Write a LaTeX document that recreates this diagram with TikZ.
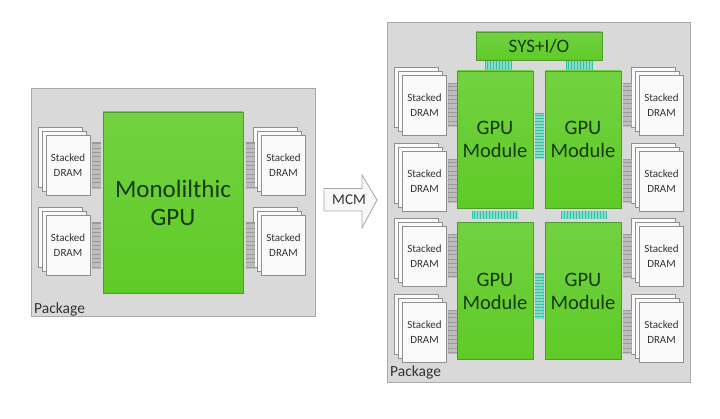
\documentclass[tikz,border=0pt]{standalone}
\usepackage{fontspec}
\setmainfont{Carlito}
\usepackage{tikz}
\usetikzlibrary{positioning}
\definecolor{pkgfill}{HTML}{D9D9D9}
\definecolor{pkgline}{HTML}{A8A8A8}
\definecolor{gpugreen}{HTML}{5FCB27}
\definecolor{gpuline}{HTML}{4E9A2A}
\definecolor{gputext}{HTML}{163A0A}
\definecolor{link}{HTML}{33C4A8}
\definecolor{pin}{HTML}{9A9A9A}
\definecolor{sheet}{HTML}{FAFAFA}
\definecolor{txt}{HTML}{333333}

\tikzset{
  pkg/.style={draw=pkgline, fill=pkgfill, line width=0.9pt, inner sep=0pt},
  gpu/.style={draw=gpuline, top color=gpugreen!88!white, bottom color=gpugreen,
    line width=0.6pt, text=gputext, align=center, inner sep=0pt},
  sheetbox/.style={draw=pkgline!85!black, fill=sheet, line width=0.5pt,
    minimum width=44pt, minimum height=60pt, inner sep=0pt},
  dramtxt/.style={font=\fontsize{11}{15}\selectfont, text=txt, align=center},
  pkgtxt/.style={font=\fontsize{15.5}{17}\selectfont, text=txt, anchor=base west, inner sep=0pt},
  % pin strips: grey for DRAM, teal for module links
  pinsv/.style={fill=pin, inner sep=0pt, minimum width=9pt, minimum height=46pt,
    path picture={\foreach \k in {1,...,50}
      \draw[pin!65!white, line width=0.5pt]
        ([yshift=-\k*1.3pt]path picture bounding box.north west) --
        ([yshift=-\k*1.3pt]path picture bounding box.north east);}},
  linkv/.style={fill=link, inner sep=0pt, minimum width=9pt, minimum height=46pt,
    path picture={\foreach \k in {1,...,40}
      \draw[link!60!white, line width=0.5pt]
        ([yshift=-\k*1.5pt]path picture bounding box.north west) --
        ([yshift=-\k*1.5pt]path picture bounding box.north east);}},
  linkh/.style={fill=link, inner sep=0pt, minimum width=46pt, minimum height=8pt,
    path picture={\foreach \k in {1,...,40}
      \draw[link!60!white, line width=0.5pt]
        ([xshift=\k*1.5pt]path picture bounding box.north west) --
        ([xshift=\k*1.5pt]path picture bounding box.south west);}},
  arrowbox/.style={draw=pkgline, fill=sheet!95!pkgfill, line width=0.8pt, line join=miter}
}

\begin{document}
\begin{tikzpicture}[x=1pt, y=-1pt]
  \fill[white] (0,0) rectangle (720,419);
  \useasboundingbox (0,0) rectangle (720,419);

  % left: monolithic package
  \node[pkg, minimum width=284pt, minimum height=228pt] (pkgL) at (173,202) {};
  \node[pkgtxt] (pkgLtxt) at (34,314) {Package};
  \node[gpu, minimum width=140pt, minimum height=181pt, font=\fontsize{25}{28}\selectfont]
    (mono) at (173,202.5) {Monolilthic\\GPU};
  \foreach \n/\x/\y in {dl1/68/165.5, dl2/68/245.5, dr1/283.5/165.5, dr2/283.5/245.5} {
    \node[sheetbox] at (\x-8,\y-8) {};
    \node[sheetbox] at (\x-4,\y-4) {};
    \node[sheetbox, dramtxt] (\n) at (\x,\y) {Stacked\\DRAM};
  }
  \node[pinsv, right=2pt of dl1] (pl1) {};
  \node[pinsv, right=2pt of dl2] (pl2) {};
  \node[pinsv, anchor=west] (pr1) at ([xshift=2pt]mono.east |- dr1) {};
  \node[pinsv, anchor=west] (pr2) at ([xshift=2pt]mono.east |- dr2) {};

  % MCM arrow
  \draw[arrowbox] (324,188.5) -- (362,188.5) -- (362,175) -- (377,200) -- (362,228)
    -- (362,211) -- (324,211) -- cycle;
  \node[font=\fontsize{15}{17}\selectfont, text=txt] (mcm) at (349,200) {MCM};

  % right: multi-chip-module package
  \node[pkg, minimum width=303pt, minimum height=360pt] (pkgR) at (538.5,202) {};
  \node[pkgtxt] (pkgRtxt) at (390,377) {Package};
  \node[gpu, minimum width=126pt, minimum height=28pt, font=\fontsize{19}{21}\selectfont]
    (sys) at (539,46) {SYS+I/O};
  \foreach \n/\x/\y in {gm1/495/139.5, gm2/583/139.5, gm3/495/291, gm4/583/291}
    \node[gpu, minimum width=76pt, minimum height=137pt, font=\fontsize{20.5}{23}\selectfont]
      (\n) at (\x,\y) {GPU\\Module};
  % module links
  \node[linkh, minimum width=27pt, minimum height=9pt] (ls1) at (498.5,65.5) {};
  \node[linkh, minimum width=27pt, minimum height=9pt] (ls2) at (579.5,65.5) {};
  \node[linkh] (lv1) at (495,215) {};
  \node[linkh] (lv2) at (583.5,215) {};
  \node[linkv] (lm1) at (539.5,136) {};
  \node[linkv] (lm2) at (539,296.5) {};
  % DRAM stacks
  \foreach \n/\x/\y in {sl1/424.5/105, sl2/424.5/181, sl3/424.5/256, sl4/424.5/332,
                         sr1/661.5/105, sr2/661.5/181, sr3/661.5/256, sr4/661.5/332} {
    \node[sheetbox] at (\x-8,\y-8) {};
    \node[sheetbox] at (\x-4,\y-4) {};
    \node[sheetbox, dramtxt] (\n) at (\x,\y) {Stacked\\DRAM};
  }
  \foreach \i in {1,...,4} {
    \node[pinsv, minimum height=44pt, right=1.5pt of sl\i] (psl\i) {};
    \node[pinsv, minimum height=44pt, anchor=west] (psr\i) at ([xshift=1pt]gm2.east |- sr\i) {};
  }
\end{tikzpicture}
\end{document}
